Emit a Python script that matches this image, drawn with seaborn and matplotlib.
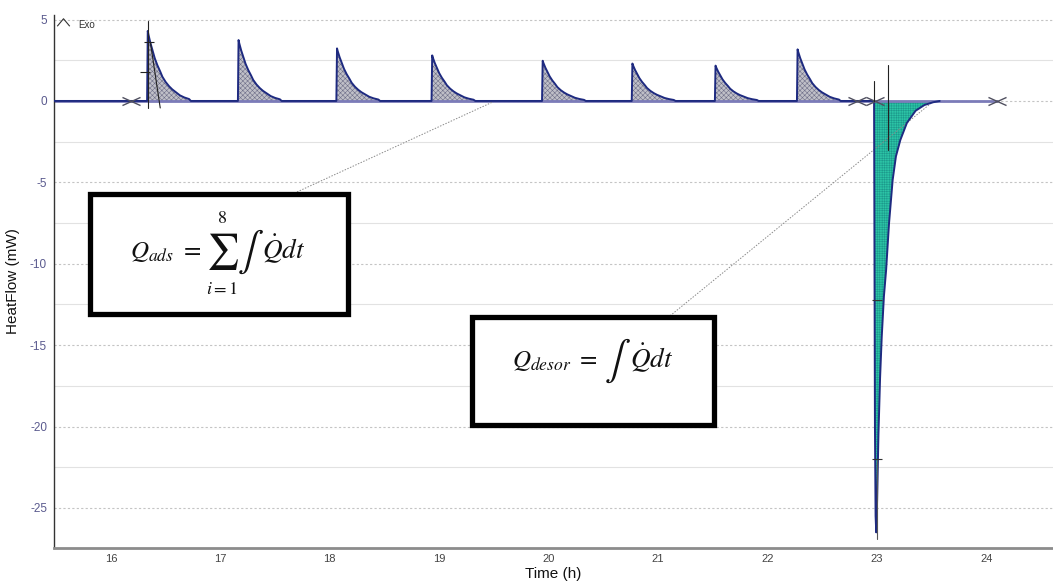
import matplotlib
matplotlib.use("Agg")
import matplotlib.pyplot as plt
import numpy as np
import pandas as pd
import seaborn as sns
from matplotlib.path import Path
from matplotlib.patches import Rectangle

# --- adsorption pulses: onset (h) and peak heat flow (mW) ---
ads_onsets = [16.33, 17.16, 18.06, 18.93, 19.94, 20.76, 21.52, 22.27]
ads_peaks = [4.30, 3.74, 3.23, 2.80, 2.47, 2.30, 2.17, 3.17]

# shape of one adsorption pulse: hours after onset, fraction of its peak
ads_shape_t = [0.0, 0.006, 0.012, 0.03, 0.048, 0.07, 0.094, 0.12, 0.14,
               0.17, 0.201, 0.23, 0.262, 0.30, 0.34, 0.384, 0.40]
ads_shape_f = [0.0, 1.0, 0.95, 0.83, 0.73, 0.61, 0.51, 0.42, 0.345,
               0.27, 0.21, 0.165, 0.126, 0.08, 0.05, 0.027, 0.0]

# --- desorption peak: onset (h), hours after onset, heat flow (mW) ---
des_onset = 22.975
des_t = [0.0, 0.003, 0.008, 0.014, 0.02, 0.028, 0.04, 0.055, 0.07, 0.09,
         0.11, 0.137, 0.17, 0.20, 0.24, 0.30, 0.38, 0.46, 0.54, 0.60]
des_q = [0.0, -8.0, -20.0, -25.5, -26.5, -24.5, -20.5, -17.0, -14.5, -12.0,
         -10.4, -7.5, -4.85, -3.4, -2.4, -1.35, -0.6, -0.25, -0.08, 0.0]

# run limits and integration limits on the baseline (h)
run_start, run_end = 15.48, 24.10
limit_marks = [16.18, 22.82, 22.98, 24.10]

x_ticks = [16, 17, 18, 19, 20, 21, 22, 23, 24]
y_ticks = [5, 0, -5, -10, -15, -20, -25]

# leader lines from the formula boxes to the curve: (t0, q0, t1, q1)
ads_leader = (17.70, -5.59, 19.51, 0.0)
des_leader = (21.11, -13.2, 23.51, -0.06)

# formula boxes: (t_left, q_bottom, t_right, q_top)
ads_box = (15.81, -13.11, 18.17, -5.74)
des_box = (19.30, -19.93, 21.51, -13.24)

# ---------------------------------------------------------------
sns.set_style("white")
plt.rcParams["font.family"] = ["Liberation Sans", "DejaVu Sans"]
plt.rcParams["mathtext.fontset"] = "stix"
plt.rcParams["hatch.linewidth"] = 0.4
plt.rcParams["axes.unicode_minus"] = False

W, H = 1053, 583

# assemble the thermogram
times, flows = [run_start], [0.0]
for onset, peak in zip(ads_onsets, ads_peaks):
    times += [onset + s for s in ads_shape_t]
    flows += [peak * f for f in ads_shape_f]
times += [des_onset + s for s in des_t]
flows += des_q
df = pd.DataFrame({"Time (h)": times, "HeatFlow (mW)": flows})

fig = plt.figure(figsize=(W / 100, H / 100), dpi=100)
ax = fig.add_axes([54 / W, 35 / H, 1 - 54 / W, 533 / H])


def fig_xy(px, py):
    """Figure-fraction position from a pixel position (origin top-left)."""
    return px / W, 1 - py / H


x_left = 16 - 57 / 109.4
x_right = 16 + 942 / 109.4
ax.set_xlim(x_left, x_right)
ax.set_ylim(-27.46, 5.28)

# grid
for v in y_ticks:
    ax.axhline(v, color="#c4c4c4", lw=0.8, ls=(0, (2, 2)), zorder=0)
for v in list(np.array(y_ticks) - 2.5):
    ax.axhline(v, color="#e2e2e2", lw=0.8, zorder=0)

# integration baseline
ax.plot([run_start, run_end], [0, 0], color="#7b7bb8", lw=2.0, zorder=2)

# shaded peak areas
for onset, peak in zip(ads_onsets, ads_peaks):
    tt = np.array(ads_shape_t) + onset
    qq = np.array(ads_shape_f) * peak
    ax.fill_between(tt, 0, qq, facecolor="#c0c0c8", edgecolor="#70708a",
                    hatch="xxxxxxx", lw=0, zorder=1)
tt = np.array(des_t) + des_onset
ax.fill_between(tt, 0, des_q, facecolor="#2cc4a6", edgecolor="#1c9a8c",
                hatch="+++++++", lw=0, zorder=1)

# signal
sns.lineplot(data=df, x="Time (h)", y="HeatFlow (mW)", estimator=None,
             sort=False, color="#1e2a80", lw=1.4, ax=ax, zorder=3)

# integration limit markers (wide crosses)
cross = Path([(-1, -0.45), (1, 0.45), (-1, 0.45), (1, -0.45)],
             [Path.MOVETO, Path.LINETO, Path.MOVETO, Path.LINETO])
ax.plot(limit_marks, [0] * len(limit_marks), ls="none", marker=cross,
        ms=13, mec="#505060", mew=1.0, zorder=4)

# onset construction on the first pulse
k = "#222222"
ax.plot([16.34, 16.34], [-0.45, 4.9], color=k, lw=0.8, zorder=4)
ax.plot([16.36, 16.45], [3.6, -0.43], color=k, lw=0.8, zorder=4)
ax.plot([16.35, 16.31], [3.6, 1.8], ls="none", marker="_", ms=7,
        mec=k, mew=0.8, zorder=4)

# construction lines on the desorption peak
ax.plot([22.975, 22.975], [0, 1.2], color=k, lw=0.8, zorder=4)
ax.plot([23.10, 23.10], [-3.0, 2.2], color=k, lw=0.8, zorder=4)
ax.plot([23.0, 23.0], [-26.9, -22.0], color="#555555", lw=0.8, zorder=4)
ax.plot([23.0, 23.0], [-12.2, -22.0], ls="none", marker="_", ms=7,
        mec="#333333", mew=0.8, zorder=4)

# leader lines
for t0, q0, t1, q1 in (ads_leader, des_leader):
    ax.plot([t0, t1], [q0, q1], color="#8a8a8a", lw=0.7, ls=(0, (1.5, 1.5)),
            zorder=2)

# formula boxes
for t0, q0, t1, q1 in (ads_box, des_box):
    ax.add_patch(Rectangle((t0, q0), t1 - t0, q1 - q0, facecolor="white",
                           edgecolor="black", lw=3.8, joinstyle="miter",
                           zorder=5))

fkw = dict(transform=fig.transFigure, zorder=6, color="#111111")
# Q_ads = sum_{i=1}^{8} integral Qdot dt
fig.text(*fig_xy(130, 258), r"$Q_{ads}\ =$", fontsize=18, ha="left",
         va="baseline", **fkw)
fig.text(*fig_xy(222, 252), r"$\sum$", fontsize=26, ha="center",
         va="center", **fkw)
fig.text(*fig_xy(222, 218), r"$8$", fontsize=13, ha="center",
         va="center", **fkw)
fig.text(*fig_xy(222, 289), r"$i=1$", fontsize=13, ha="center",
         va="center", **fkw)
fig.text(*fig_xy(250, 252), r"$\int$", fontsize=28, ha="center",
         va="center", **fkw)
fig.text(*fig_xy(262, 258), r"$\dot{Q}dt$", fontsize=19.5, ha="left",
         va="baseline", **fkw)
# Q_desor = integral Qdot dt
fig.text(*fig_xy(512, 367), r"$Q_{desor}\ =$", fontsize=18, ha="left",
         va="baseline", **fkw)
fig.text(*fig_xy(617, 361), r"$\int$", fontsize=28, ha="center",
         va="center", **fkw)
fig.text(*fig_xy(630, 367), r"$\dot{Q}dt$", fontsize=19.5, ha="left",
         va="baseline", **fkw)

# exotherm direction
chevron = Path([(-1, -0.6), (0, 0.6), (1, -0.6)],
               [Path.MOVETO, Path.LINETO, Path.LINETO])
fig.lines.append(plt.Line2D([63 / W], [1 - 22 / H], transform=fig.transFigure,
                            marker=chevron, ms=9, mec="#333333", mew=0.8,
                            ls="none", fillstyle="none"))
fig.text(*fig_xy(78, 25), "Exo", fontsize=7, color="#333333", ha="left",
         va="center")

# axes styling
ax.set_xticks(x_ticks)
ax.set_xticks(np.array(x_ticks[:-1]) + 0.5, minor=True)
ax.set_yticks(y_ticks)
ax.set_xticklabels([str(v) for v in x_ticks])
ax.set_yticklabels([str(v) for v in y_ticks])
ax.tick_params(axis="x", which="major", direction="out", length=3,
               color="#888888", labelsize=8, labelcolor="#444444", pad=1.5)
ax.tick_params(axis="x", which="minor", direction="out", length=2,
               color="#888888")
ax.tick_params(axis="y", direction="out", length=3, color="#555555",
               labelsize=8.5, labelcolor="#5a5a8e", pad=2)
for s in ("top", "right"):
    ax.spines[s].set_visible(False)
ax.spines["left"].set_color("#333333")
ax.spines["left"].set_linewidth(1.0)
ax.spines["bottom"].set_color("#8c8c8c")
ax.spines["bottom"].set_linewidth(2.0)

ax.set_xlabel("Time (h)", fontsize=11, color="#111111")
ax.set_ylabel("HeatFlow (mW)", fontsize=11, color="#111111")
ax.yaxis.set_label_coords(-0.034, 0.5)
ax.xaxis.set_label_coords(0.5, -(581 - 548) / 533)
ax.xaxis.label.set_verticalalignment("bottom")

fig.savefig("out.png", dpi=100)
